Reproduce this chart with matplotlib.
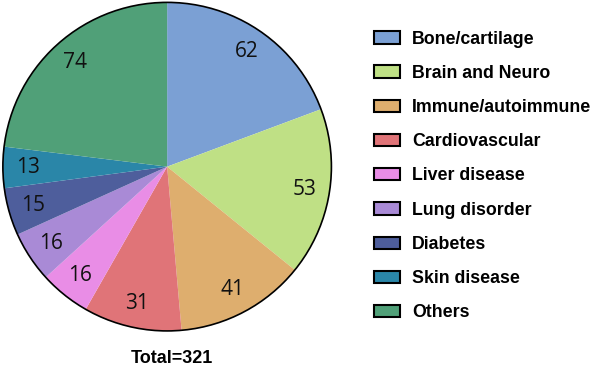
import matplotlib.pyplot as plt
from matplotlib.patches import Patch, Circle

categories = ['Bone/cartilage', 'Brain and Neuro', 'Immune/autoimmune', 'Cardiovascular',
              'Liver disease', 'Lung disorder', 'Diabetes', 'Skin disease', 'Others']
counts = [62, 53, 41, 31, 16, 16, 15, 13, 74]
colors = ['#7BA0D4', '#BFE085', '#DEAE6E', '#E07478', '#E98DE6',
          '#A98AD6', '#4E5E9C', '#2A86A8', '#50A078']

fig = plt.figure(figsize=(5.98, 3.72), dpi=100)
ax = fig.add_axes([0.002, 0.106, 0.555, 0.892])

wedges, texts = ax.pie(counts, colors=colors, startangle=90, counterclock=False,
                       labels=[str(c) for c in counts], labeldistance=0.85,
                       wedgeprops=dict(linewidth=0),
                       textprops=dict(fontsize=15, family='Open Sans', color='#111111'))
for t in texts:
    t.set_horizontalalignment('center')
    t.set_verticalalignment('center')
ax.add_patch(Circle((0, 0), 1, fill=False, edgecolor='black', linewidth=1.2))
ax.set_xlim(-1.01, 1.01)
ax.set_ylim(-1.01, 1.01)
ax.set_aspect('equal')

handles = [Patch(facecolor=c, edgecolor='black', linewidth=1.5) for c in colors]
fig.legend(handles, categories, loc='upper left', bbox_to_anchor=(0.625, 0.918),
           frameon=False, prop=dict(family='Liberation Sans', weight='bold', size=12.8),
           labelspacing=0.97, handlelength=1.45, handleheight=0.7, handletextpad=0.7,
           borderaxespad=0, borderpad=0)

fig.text(0.288, 0.036, 'Total=321', ha='center', va='center',
         fontsize=13, fontweight='bold', family='Liberation Sans')

fig.savefig('out.png', dpi=100)
